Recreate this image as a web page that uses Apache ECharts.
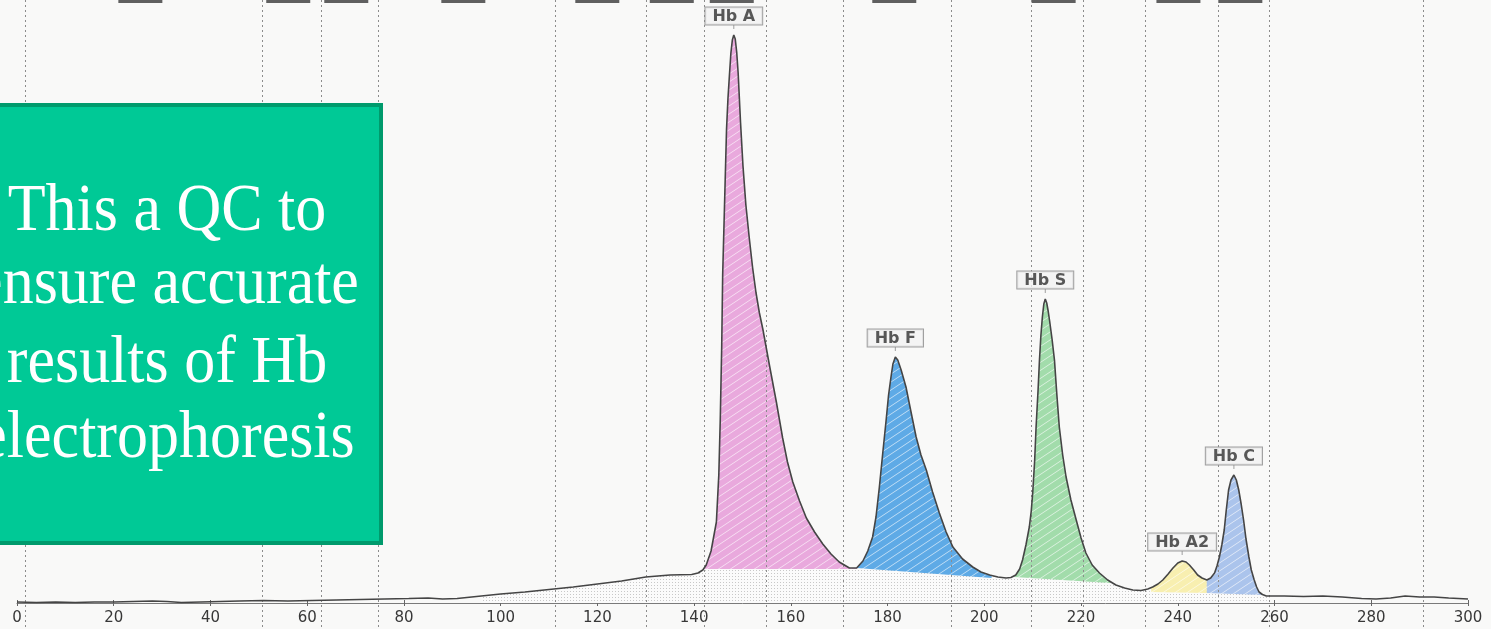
<!DOCTYPE html>
<html>
<head>
<meta charset="utf-8">
<script src="https://cdn.jsdelivr.net/npm/echarts@6/dist/echarts.min.js"></script>
<style>
html,body{margin:0;padding:0;background:#f9f9f8;}
#chart{width:1491px;height:629px;}
</style>
</head>
<body>
<div id="chart"></div>
<script>
// ---------- DATA ----------
const xMin = 0, xMax = 300, xStep = 20;

// densitometric trace: migration position (x) and signal height (y)
const curveX = [0,4,8,12,16,20,24,28,31,34,38,42,46,51,56,61,66,71,76,81,85,88,91,95,100,105,110,115,120,125,130,135,139.5,140.8,141.8,142.5,143.5,144.6,145.1,145.4,145.7,145.9,146.3,146.7,147.0,147.3,147.6,147.9,148.2,148.5,148.8,149.1,149.6,150.1,150.7,151.4,152.1,152.8,153.5,154.2,155.6,157.0,158.3,159.3,160.4,161.8,163.2,164.9,166.6,168.3,170.0,172.1,173.6,174.9,175.9,176.9,177.6,178.3,179.0,179.7,180.2,180.7,181.1,181.6,182.1,182.8,183.8,184.8,185.9,186.9,188.0,189.3,190.7,192.1,193.5,195.5,197.6,199.3,201.1,202.8,204.5,205.5,206.5,207.3,207.9,208.6,209.3,209.7,210.0,210.4,210.7,211.1,211.4,211.7,212.0,212.3,212.6,212.9,213.2,213.5,214.0,214.5,215.0,215.5,216.2,216.9,217.9,219.0,220.0,221.0,222.3,223.8,225.5,227.2,229.0,230.7,232.4,233.8,234.8,235.9,236.9,238.0,239.0,240.0,240.9,241.7,242.4,243.3,244.1,245.0,246.0,246.8,247.6,248.1,248.6,249.1,249.6,250.0,250.5,251.0,251.6,252.1,252.6,253.1,253.6,254.1,254.7,255.2,255.8,256.3,256.8,257.5,258.3,262,266,270,274,278,281,284,287,290,293,296,300];
const curveY = [1,0.5,1,0.5,1,1,1.5,2,1.5,0.5,1,1.5,2,2.5,2,2.5,3,3.5,4,4.5,5,4,4.5,6.5,9,11,13.5,16,19,22,26,28,28.5,30,33,38,52,81,128,183,256,328,401,474,505,528,550,563,568,564,551,530,480,437,398,365,335,310,290,274,237,201,165,141,121,102,85,71,59,49,41,35,35,42,52,66,86,116,150,183,208,226,239,246,243,233,216,192,166,148,133,111,90,71,56,44,36,31,28,26,25,25.5,28,34,43,58,76,92,110,142,176,212,243,268,286,299,304,300,292,282,264,243,208,176,148,126,103,83,65,50,38,30,23,18,15,13,12.5,14,16,19,23,29,35,40,42,41,38,33,28,25,23,25,30,37,46,58,73,92,113,123,128,123,113,99,83,64,46,33,23,16,11,8.5,7,7,6.5,7,6,4.5,4,5,7,6,6,5,4];

// zone boundaries (dotted vertical lines) and zones carrying a (cut-off) label box at the top
const zoneBounds = [1.65,50.6,62.8,74.6,111.2,130.0,142.0,154.8,170.8,193.2,209.6,220.3,233.2,248.3,258.8,290.7];
const labeledZones = [0,1,2,3,4,5,6,8,10,12,13];

// hemoglobin fractions: integration limits and baseline heights at each limit
const fractionNames = ['Hb A','Hb F','Hb S','Hb A2','Hb C'];
const fracStart     = [142.2, 173.6, 206.2, 234.5, 246.0];
const fracEnd       = [173.6, 201.5, 226.0, 246.0, 257.5];
const fracBaseStart = [34, 35, 26, 11, 10];
const fracBaseEnd   = [34, 25, 20, 10, 8];

// stippled background under the trace
const stippleRange = [96, 259];

// peak labels
const peakNames = ['Hb A','Hb F','Hb S','Hb A2','Hb C'];
const peakX = [148.2, 181.6, 212.6, 240.9, 251.6];
const peakH = [568, 246, 304, 42, 128];

// note box text
const noteLines = ['This a QC to','ensure accurate','results of Hb','electrophoresis'];

// ---------- STYLES ----------
const fracColors = ['#e9a9dd','#5eaae6','#a2dcab','#f8efb0','#abc4ec'];
const noteBaselines = [235, 308, 387, 462];
const H = 629;

function hatch(color){
  const w = 12, h = 8;
  const c = document.createElement('canvas'); c.width = w; c.height = h;
  const g = c.getContext('2d');
  g.fillStyle = color; g.fillRect(0,0,w,h);
  g.strokeStyle = 'rgba(255,255,255,0.6)'; g.lineWidth = 1;
  g.beginPath();
  for (let dx = -w; dx <= w; dx += w) {
    for (let dy = -h; dy <= h; dy += h) {
      g.moveTo(dx, h + dy); g.lineTo(w + dx, dy);
    }
  }
  g.stroke();
  return c;
}
function stipple(){
  const c = document.createElement('canvas'); c.width = 3; c.height = 3;
  const g = c.getContext('2d');
  g.fillStyle = '#fbfbfb'; g.fillRect(0,0,3,3);
  g.fillStyle = '#c8c8c8'; g.fillRect(0,0,1,1);
  return c;
}
const hatchCanvases = fracColors.map(hatch);
const stippleCanvas = stipple();

function curveAt(x){
  for (let k = 1; k < curveX.length; k++) {
    if (curveX[k] >= x) {
      const t = (x - curveX[k-1]) / (curveX[k] - curveX[k-1]);
      return curveY[k-1] + t * (curveY[k] - curveY[k-1]);
    }
  }
  return curveY[curveY.length-1];
}
function curveSegment(a, b){
  const pts = [[a, curveAt(a)]];
  for (let k = 0; k < curveX.length; k++) if (curveX[k] > a && curveX[k] < b) pts.push([curveX[k], curveY[k]]);
  pts.push([b, curveAt(b)]);
  return pts;
}

const chart = echarts.init(document.getElementById('chart'), null, {renderer:'canvas'});
const axisFont = {fontFamily:'DejaVu Sans', fontSize:15, color:'#383838'};

chart.setOption({
  animation: false,
  backgroundColor: '#f9f9f8',
  grid: {left:17, right:23, top:0, bottom:26, containLabel:false, outerBoundsMode:'none'},
  xAxis: [
    {type:'value', min:xMin, max:xMax, interval:xStep, position:'bottom',
     axisLine:{onZero:false, lineStyle:{color:'#7a7a7a', width:1}},
     axisTick:{show:true, length:3, lineStyle:{color:'#666'}},
     axisLabel:Object.assign({margin:8}, axisFont),
     splitLine:{show:false}},
    {type:'value', min:xMin, max:xMax, interval:xStep, position:'bottom',
     axisLine:{show:false, onZero:false},
     axisTick:{show:true, inside:true, length:3, lineStyle:{color:'#666'}},
     axisLabel:{show:false}, splitLine:{show:false}}
  ],
  yAxis: {type:'value', min:0, max:603, show:false, splitLine:{show:false}},
  series: [
    { // stipple under trace
      type:'custom', coordinateSystem:'cartesian2d', z:1, silent:true, clip:false,
      data:[[stippleRange[0], 0]],
      renderItem:(params, api) => {
        const pts = curveSegment(stippleRange[0], stippleRange[1]);
        pts.push([stippleRange[1], 0], [stippleRange[0], 0]);
        return {type:'polygon', shape:{points:pts.map(p => api.coord(p))},
                style:{fill:{image:stippleCanvas, repeat:'repeat'}}};
      }
    },
    { // fraction areas
      type:'custom', coordinateSystem:'cartesian2d', z:2, silent:true, clip:false,
      data: fractionNames.map((n,i) => [fracStart[i], fracBaseStart[i]]),
      renderItem:(params, api) => {
        const i = params.dataIndex;
        const pts = curveSegment(fracStart[i], fracEnd[i]);
        pts.push([fracEnd[i], fracBaseEnd[i]], [fracStart[i], fracBaseStart[i]]);
        return {type:'polygon', shape:{points:pts.map(p => api.coord(p))},
                style:{fill:{image:hatchCanvases[i], repeat:'repeat'}}};
      }
    },
    { // zone boundary dotted lines (full height)
      type:'custom', coordinateSystem:'cartesian2d', z:3, silent:true, clip:false,
      data: zoneBounds.map(v => [v, 0]),
      renderItem:(params, api) => {
        const p = api.coord([api.value(0), 0]);
        const x = Math.round(p[0]) + 0.5;
        return {type:'line', shape:{x1:x, y1:0, x2:x, y2:H},
                style:{stroke:'#8c8c8c', lineWidth:1, lineDash:[2,3]}};
      }
    },
    { // cut-off zone label boxes at the top edge
      type:'custom', coordinateSystem:'cartesian2d', z:2, silent:true, clip:false,
      data: labeledZones.map(i => [(zoneBounds[i] + zoneBounds[i+1]) / 2, 0]),
      renderItem:(params, api) => {
        const p = api.coord([api.value(0), 0]);
        return {type:'rect', shape:{x:p[0]-25, y:-3, width:44, height:6},
                style:{fill:'#606060'}};
      }
    },
    { // trace
      type:'line', z:4, silent:true, symbol:'none',
      data: curveX.map((x,i) => [x, curveY[i]]),
      lineStyle:{color:'#454545', width:1.6}
    },
    { // peak ticks
      type:'scatter', z:4, silent:true, symbol:'rect', symbolSize:[1,4], symbolOffset:[0,-8],
      itemStyle:{color:'#888'},
      data: peakX.map((x,i) => [x, peakH[i]])
    },
    { // peak labels
      type:'scatter', z:5, silent:true, symbolSize:1,
      itemStyle:{color:'rgba(0,0,0,0)'},
      data: peakX.map((x,i) => ({name:peakNames[i], value:[x, peakH[i]]})),
      label:{show:true, position:'top', distance:10, formatter:'{b}',
             fontFamily:'DejaVu Sans', fontSize:16, fontWeight:'bold', color:'#303030',
             backgroundColor:'#f3f3f3', borderColor:'#8a8a8a', borderWidth:1,
             padding:[1,7,0,7], lineHeight:16}
    }
  ],
  graphic: [
    {type:'rect', z:100, silent:true,
     shape:{x:-60, y:105, width:441, height:438},
     style:{fill:'#00c996', stroke:'#009a6c', lineWidth:4}}
  ].concat(noteLines.map((t,i) => ({
     type:'text', z:101, silent:true, x:167, y:noteBaselines[i] - 23, scaleY:1.1,
     style:{text:t, fill:'#ffffff', font:'normal 62px "Liberation Serif"', align:'center', verticalAlign:'middle'}
  })))
});
</script>
</body>
</html>
